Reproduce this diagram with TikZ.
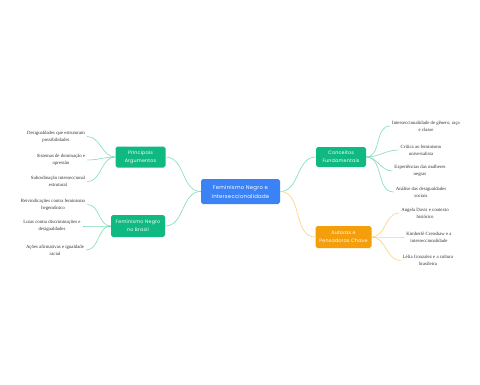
\documentclass[tikz,border=0pt]{standalone}
\usepackage{fontspec}
\setmainfont{Liberation Serif}
\newfontfamily\boxfont[LetterSpace=4]{Poppins}
\definecolor{cblue}{HTML}{3B82F6}
\definecolor{cgreen}{HTML}{10B981}
\definecolor{corange}{HTML}{F59E0B}
\definecolor{lgreen}{HTML}{7FDDB8}
\definecolor{lorange}{HTML}{FCD27A}
\definecolor{leaftext}{HTML}{333333}
\tikzset{
  topic/.style={rounded corners=1.8pt, inner sep=0pt, align=center, text=white,
    font=\boxfont\fontsize{4.8}{8}\selectfont},
  rootbox/.style={topic, fill=cblue, minimum width=79pt, minimum height=25pt,
    font=\boxfont\fontsize{5.4}{9}\selectfont},
  greenbox/.style={topic, fill=cgreen},
  orangebox/.style={topic, fill=corange},
  leaf/.style={inner sep=2pt, align=center, text=leaftext,
    font=\fontsize{4.8}{7}\selectfont},
  gconn/.style={draw=lgreen, line width=0.6pt},
  oconn/.style={draw=lorange, line width=0.6pt},
}
\begin{document}
\begin{tikzpicture}[x=1pt,y=-1pt]
\useasboundingbox (0,0) rectangle (480,384);
\fill[white] (0,0) rectangle (480,384);

% nodes
\node[rootbox] (root) at (240.5,191.5) {Feminismo Negro e\\Interseccionalidade};
\node[greenbox, minimum width=50pt, minimum height=21pt] (arg) at (140.5,157) {Principais\\Argumentos};
\node[greenbox, minimum width=54pt, minimum height=22pt] (bra) at (138,226) {Feminismo Negro\\no Brasil};
\node[greenbox, minimum width=50pt, minimum height=20pt] (con) at (341,157) {Conceitos\\Fundamentais};
\node[orangebox, minimum width=56pt, minimum height=22pt] (aut) at (343.5,237) {Autoras e\\Pensadoras Chave};

% left leaves
\node[leaf] (l1) at (56,136.5) {Desigualdades que estruturam\\possibilidades};
\node[leaf] (l2) at (61,160) {Sistemas de dominação e\\opressão};
\node[leaf] (l3) at (58,181.5) {Subordinação interseccional\\estrutural};
\node[leaf] (l4) at (53,204.5) {Reivindicações contra feminismo\\hegemônico};
\node[leaf] (l5) at (52,226) {Lutas contra discriminações e\\desigualdades};
\node[leaf] (l6) at (55,250) {Ações afirmativas e igualdade\\racial};

% right leaves
\node[leaf] (r1) at (426,126) {Interseccionalidade de gênero, raça\\e classe};
\node[leaf] (r2) at (421,150) {Crítica ao feminismo\\universalista};
\node[leaf] (r3) at (420,171) {Experiências das mulheres\\negras};
\node[leaf] (r4) at (421,192) {Análise das desigualdades\\sociais};
\node[leaf] (a1) at (425,213) {Angela Davis e contexto\\histórico};
\node[leaf] (a2) at (429,237) {Kimberlé Crenshaw e a\\interseccionalidade};
\node[leaf] (a3) at (428,260.5) {Lélia Gonzalez e a cultura\\brasileira};

% root connectors
\draw[gconn] (root.west) to[out=180,in=0] (arg.east);
\draw[gconn] (root.west) to[out=180,in=0] (bra.east);
\draw[gconn] (root.east) to[out=0,in=180] (con.west);
\draw[oconn] (root.east) to[out=0,in=180] (aut.west);

% leaf connectors
\foreach \l in {l1,l2,l3} \draw[gconn] (arg.west) to[out=180,in=0] (\l.east);
\foreach \l in {l4,l5,l6} \draw[gconn] (bra.west) to[out=180,in=0] (\l.east);
\foreach \l in {r1,r2,r3,r4} \draw[gconn] (con.east) to[out=0,in=180] (\l.west);
\foreach \l in {a1,a2,a3} \draw[oconn] (aut.east) to[out=0,in=180] (\l.west);
\end{tikzpicture}
\end{document}
